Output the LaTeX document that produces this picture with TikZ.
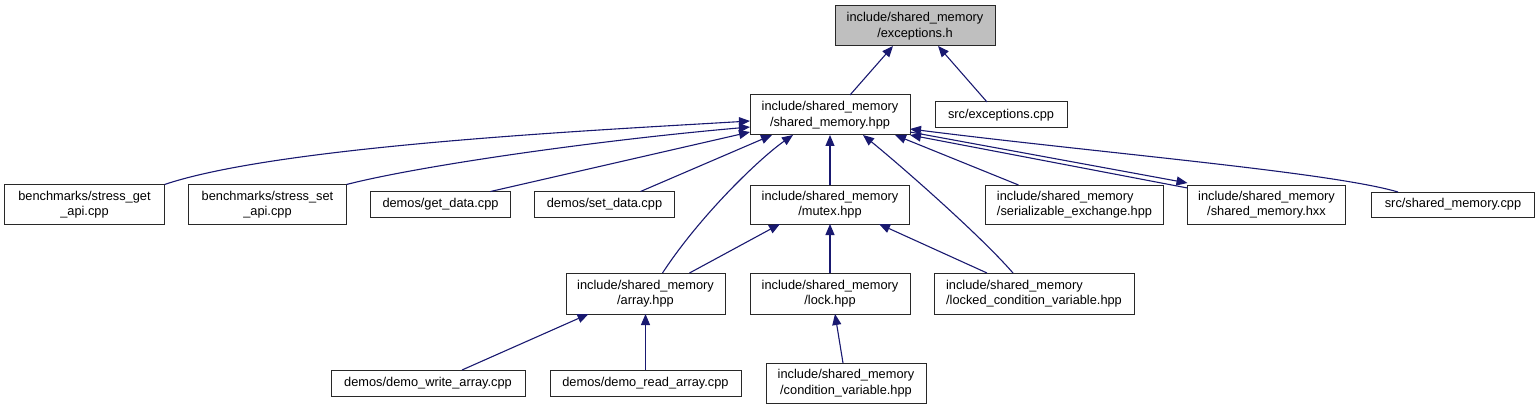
\documentclass[tikz,border=0pt]{standalone}
\usepackage{fontspec}
\newfontfamily\dotfont{Liberation Sans}
\usepackage{tikz}
\usetikzlibrary{arrows.meta, positioning, calc}
\usepackage{xcolor}
\definecolor{edgeblue}{RGB}{25,25,112}
\definecolor{rootgray}{RGB}{191,191,191}
\definecolor{boxline}{RGB}{40,40,40}

\begin{document}
\begin{tikzpicture}[
    x=1pt, y=-1pt,
    node distance=24pt,
    filebox/.style={rectangle, draw=boxline, fill=white, line width=1pt, inner sep=0pt, outer sep=0pt,
        minimum width=#1, minimum height=40pt, align=center, font=\dotfont\fontsize{12.8}{15.6}\selectfont},
    onefile/.style={filebox=#1, minimum height=26pt},
    dep/.style={-{Triangle[length=11pt, width=9pt]}, draw=edgeblue, line width=1.1pt},
]
\useasboundingbox (0,0) rectangle (1539,409);

% Top: the header and its direct includers
\node[filebox=160pt, fill=rootgray] (exch) at (915,26) {include/shared\_memory\\/exceptions.h};
\node[filebox=160pt] (smhpp) at (830,115) {include/shared\_memory\\/shared\_memory.hpp};
\node[onefile=132pt, right=25pt of smhpp] (exccpp) {src/exceptions.cpp};

% Row 2
\node[filebox=159pt, minimum height=39pt, below=50pt of smhpp] (mutex) {include/shared\_memory\\/mutex.hpp};
\node[onefile=140pt, left=76pt of mutex] (setd) {demos/set\_data.cpp};
\node[onefile=140pt, left=of setd] (getd) {demos/get\_data.cpp};
\node[filebox=158pt, left=of getd] (sset) {benchmarks/stress\_set\\\_api.cpp};
\node[filebox=160pt, left=of sset] (sget) {benchmarks/stress\_get\\\_api.cpp};
\node[filebox=178pt, minimum height=39pt, align=left, right=76pt of mutex] (serial) {include/shared\_memory\\/serializable\_exchange.hpp};
\node[filebox=158pt, minimum height=39pt, right=of serial] (hxx) {include/shared\_memory\\/shared\_memory.hxx};
\node[onefile=163pt, minimum height=25pt, right=26pt of hxx] (smcpp) {src/shared\_memory.cpp};

% Row 3
\node[filebox=160pt, minimum height=41pt, below=49pt of mutex] (lock) {include/shared\_memory\\/lock.hpp};
\node[filebox=159pt, minimum height=41pt, left=25pt of lock] (array) {include/shared\_memory\\/array.hpp};
\node[filebox=200pt, minimum height=41pt, align=left, right=of lock] (lcv) {include/shared\_memory\\/locked\_condition\_variable.hpp};

% Row 4
\node[onefile=191pt, below=56pt of array] (dread) {demos/demo\_read\_array.cpp};
\node[onefile=194pt, left=25pt of dread] (dwrite) {demos/demo\_write\_array.cpp};
\node[filebox=160pt, right=25pt of dread] (cv) {include/shared\_memory\\/condition\_variable.hpp};

% Edges into exceptions.h
\draw[dep] ($(smhpp.north)+(20,0)$) -- ($(exch.south)+(-22,0)$);
\draw[dep] ($(exccpp.north)+(-14,0)$) -- ($(exch.south)+(23,0)$);

% Edges into shared_memory.hpp
\draw[dep] (sget.north east) .. controls +(116,-39) and +(-150,9) .. ($(smhpp.west)+(0,6)$);
\draw[dep] (sset.north east) .. controls +(74,-19) and +(-150,13) .. ($(smhpp.west)+(0,12)$);
\draw[dep] ($(getd.north)+(50,0)$) -- ($(smhpp.west)+(0,17)$);
\draw[dep] ($(setd.north)+(36,0)$) -- ($(smhpp.south)+(-58,0)$);
\draw[dep] ($(array.north)+(17,0)$) .. controls +(38,-58) and +(-33,23) .. ($(smhpp.south)+(-37,0)$);
\draw[dep] (mutex) -- (smhpp);
\draw[dep] ($(lcv.north)+(-21,0)$) .. controls +(-33,-38) and +(37,30) .. ($(smhpp.south)+(33,0)$);
\draw[dep] ($(serial.north)+(-56,0)$) -- ($(smhpp.south)+(65,0)$);
\draw[dep] ($(hxx.north west)+(0,3)$) -- (smhpp.south east);
\draw[dep] ($(smhpp.east)+(0,17)$) -- ($(hxx.north west)+(0,-2)$);
\draw[dep] ($(smcpp.north)+(-55,0)$) .. controls +(-68,-20) and +(190,24) .. ($(smhpp.east)+(0,14)$);

% Edges into mutex.hpp, lock.hpp, array.hpp
\draw[dep] ($(array.north)+(44,0)$) -- ($(mutex.south)+(-50,0)$);
\draw[dep] (lock) -- (mutex);
\draw[dep] ($(lcv.north)+(-47,0)$) -- ($(mutex.south)+(49,0)$);
\draw[dep] ($(dwrite.north)+(34,0)$) -- ($(array.south)+(-57,0)$);
\draw[dep] (dread) -- (array);
\draw[dep] ($(cv.north)+(-3,0)$) -- ($(lock.south)+(5,0)$);

\end{tikzpicture}
\end{document}
